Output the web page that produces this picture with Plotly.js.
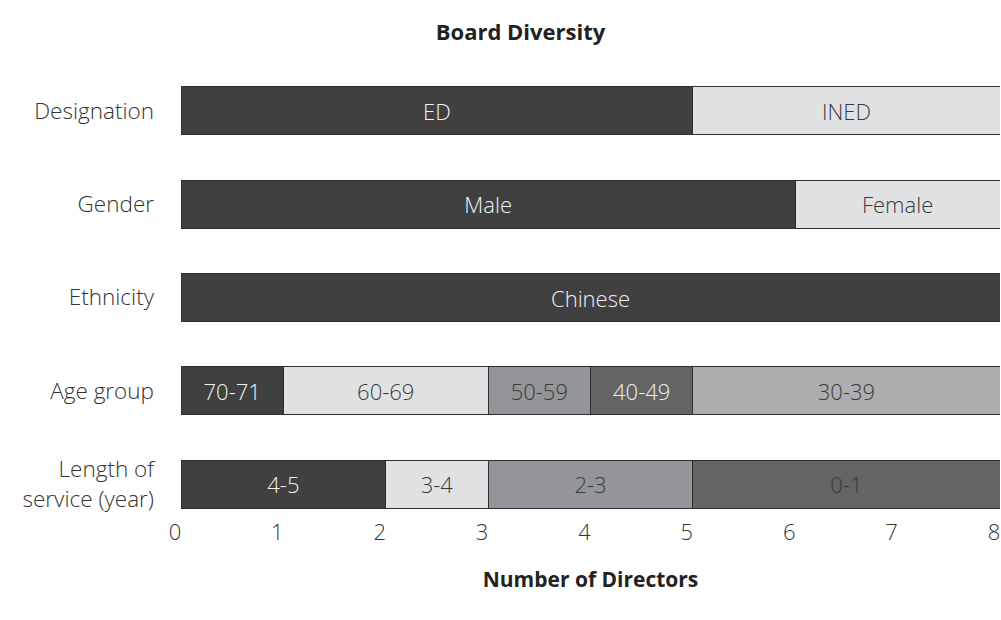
<!DOCTYPE html>
<html>
<head>
<meta charset="utf-8">
<script src="https://cdn.plot.ly/plotly-3.0.1.min.js"></script>
<style>html,body{margin:0;padding:0;background:#fff}#chart{width:1001px;height:620px}</style>
</head>
<body>
<div id="chart"></div>
<script>
var categories = ['Designation', 'Gender', 'Ethnicity', 'Age group', 'Length of<br>service (year)'];

var designationLabels = ['ED', 'INED'];
var designationValues = [5, 3];
var genderLabels = ['Male', 'Female'];
var genderValues = [6, 2];
var ethnicityLabels = ['Chinese'];
var ethnicityValues = [8];
var ageLabels = ['70-71', '60-69', '50-59', '40-49', '30-39'];
var ageValues = [1, 2, 1, 1, 3];
var serviceLabels = ['4-5', '3-4', '2-3', '0-1'];
var serviceValues = [2, 1, 2, 3];

var DARK = '#404041', LIGHT = '#e1e2e4', MID = '#939598', DGRAY = '#636466', LGRAY = '#adaeb0';
var WT = '#f2f2f2', DT = '#3a3a3a';

var rows = [
  {cat: categories[0], labels: designationLabels, values: designationValues, colors: [DARK, LIGHT], tcolors: [WT, DT]},
  {cat: categories[1], labels: genderLabels, values: genderValues, colors: [DARK, LIGHT], tcolors: [WT, DT]},
  {cat: categories[2], labels: ethnicityLabels, values: ethnicityValues, colors: [DARK], tcolors: [WT]},
  {cat: categories[3], labels: ageLabels, values: ageValues, colors: [DARK, LIGHT, MID, DGRAY, LGRAY], tcolors: [WT, DT, DT, WT, DT]},
  {cat: categories[4], labels: serviceLabels, values: serviceValues, colors: [DARK, LIGHT, MID, DGRAY], tcolors: [WT, DT, DT, DT]}
];

var FONT = 'Open Sans, sans-serif';
var traces = [];
rows.forEach(function (r) {
  r.labels.forEach(function (lab, i) {
    traces.push({
      type: 'bar',
      orientation: 'h',
      y: [r.cat],
      x: [r.values[i]],
      text: [lab],
      textposition: 'inside',
      insidetextanchor: 'middle',
      constraintext: 'none',
      textfont: {family: FONT, size: 22, color: r.tcolors[i], weight: 300},
      marker: {color: r.colors[i], line: {color: '#2e2e2e', width: 1}},
      hoverinfo: 'skip',
      showlegend: false
    });
  });
});

var layout = {
  width: 1001,
  height: 620,
  barmode: 'stack',
  bargap: 0.485,
  paper_bgcolor: '#ffffff',
  plot_bgcolor: '#ffffff',
  margin: {l: 181, r: 1, t: 80, b: 105},
  font: {family: FONT, color: '#333333'},
  title: {
    text: 'Board Diversity',
    x: 0.52, xref: 'container', xanchor: 'center',
    y: 0.948, yref: 'container', yanchor: 'middle',
    font: {family: FONT, size: 22, color: '#222222', weight: 700}
  },
  xaxis: {
    range: [0, 8],
    dtick: 1,
    tick0: 0,
    showgrid: false,
    zeroline: false,
    showline: false,
    ticks: '',
    ticklabelshift: -6,
    ticklabelstandoff: 2,
    tickfont: {family: FONT, size: 22, color: '#333333', weight: 300},
    title: {text: 'Number of Directors', standoff: 27, font: {family: FONT, size: 21, color: '#222222', weight: 700}}
  },
  yaxis: {
    type: 'category',
    categoryorder: 'array',
    categoryarray: categories,
    range: [4.332, -0.332],
    showgrid: false,
    zeroline: false,
    showline: false,
    ticks: '',
    ticklabelstandoff: 26,
    tickfont: {family: FONT, size: 22.5, color: '#333333', weight: 300}
  }
};

Plotly.newPlot('chart', traces, layout, {displayModeBar: false, staticPlot: true});
</script>
</body>
</html>
